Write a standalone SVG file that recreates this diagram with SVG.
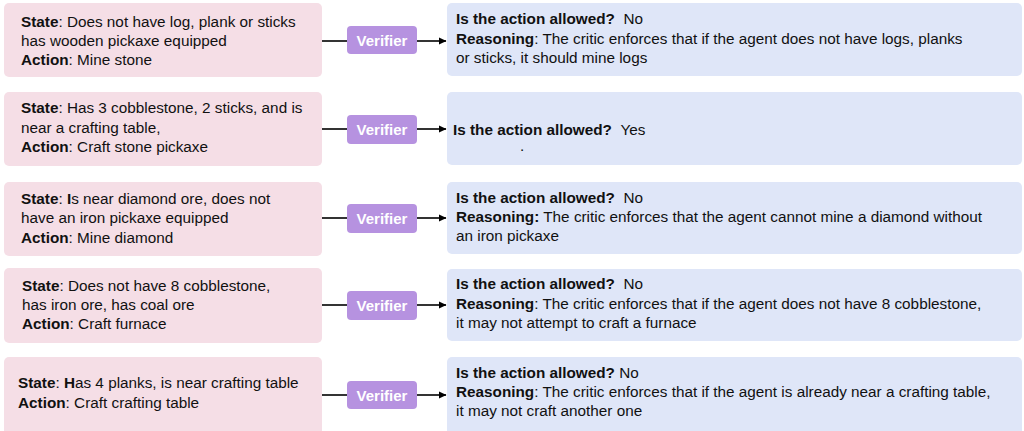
<svg xmlns="http://www.w3.org/2000/svg" width="1024" height="431" viewBox="0 0 1024 431">
<defs>
<style>
.state{fill:#f5dee6}
.out{fill:#dfe6f8}
.ver{fill:#b692e0}
.vt{font-family:"Liberation Sans",Arial,sans-serif;font-size:15px;font-weight:bold;fill:#ffffff;text-anchor:middle}
.t{font-family:"Liberation Sans",Arial,sans-serif;font-size:15.3px;fill:#111111}
.r{font-family:"Liberation Sans",Arial,sans-serif;font-size:15.3px;fill:#111111}
.b{font-weight:bold}
.edge{stroke:#000;stroke-width:1.6;fill:none}
</style>
<marker id="arr" markerWidth="8" markerHeight="8" refX="7" refY="4" orient="auto" markerUnits="userSpaceOnUse">
<path d="M0,0.5 L7.5,4 L0,7.5 z" fill="#000"/>
</marker>
</defs>
<rect width="1024" height="431" fill="#fff"/>

<g id="row1">
<g id="state1"><rect class="state" x="4" y="3" width="318" height="74" rx="5"/>
<text class="t" x="21" y="27"><tspan class="b">State</tspan>: Does not have log, plank or sticks</text>
<text class="t" x="21" y="46">has wooden pickaxe equipped</text>
<text class="t" x="21" y="65"><tspan class="b">Action</tspan>: Mine stone</text></g>
<g id="ver1"><rect class="ver" x="347" y="26" width="70" height="28" rx="4"/><text class="vt" x="382" y="45.5">Verifier</text></g>
<g id="out1"><rect class="out" x="447" y="3" width="575" height="73" rx="5"/>
<text class="r" x="456" y="24"><tspan class="b">Is the action allowed?</tspan><tspan dx="8.5">No</tspan></text>
<text class="r" x="456" y="44"><tspan class="b">Reasoning</tspan>: The critic enforces that if the agent does not have logs, planks</text>
<text class="r" x="456" y="63">or sticks, it should mine logs</text></g>
</g>

<g id="row2">
<g id="state2"><rect class="state" x="4" y="92" width="318" height="74" rx="5"/>
<text class="t" x="21" y="113"><tspan class="b">State</tspan>: Has 3 cobblestone, 2 sticks, and is</text>
<text class="t" x="21" y="133">near a crafting table,</text>
<text class="t" x="21" y="152"><tspan class="b">Action</tspan>: Craft stone pickaxe</text></g>
<g id="ver2"><rect class="ver" x="347" y="115" width="70" height="29" rx="4"/><text class="vt" x="382" y="134.5">Verifier</text></g>
<g id="out2"><rect class="out" x="447" y="92" width="575" height="73" rx="5"/>
<text class="r" x="453" y="135"><tspan class="b">Is the action allowed?</tspan><tspan dx="8.5">Yes</tspan></text>
<text class="r" x="520" y="151">.</text></g>
</g>

<g id="row3">
<g id="state3"><rect class="state" x="4" y="182" width="318" height="74" rx="5"/>
<text class="t" x="21" y="204"><tspan class="b">State</tspan>: <tspan class="b">I</tspan>s near diamond ore, does not</text>
<text class="t" x="21" y="223">have an iron pickaxe equipped</text>
<text class="t" x="21" y="243"><tspan class="b">Action</tspan>: Mine diamond</text></g>
<g id="ver3"><rect class="ver" x="347" y="204" width="70" height="29" rx="4"/><text class="vt" x="382" y="223.5">Verifier</text></g>
<g id="out3"><rect class="out" x="447" y="182" width="575" height="72" rx="5"/>
<text class="r" x="456" y="203"><tspan class="b">Is the action allowed?</tspan><tspan dx="8.5">No</tspan></text>
<text class="r" x="456" y="222"><tspan class="b">Reasoning:</tspan> The critic enforces that the agent cannot mine a diamond without</text>
<text class="r" x="456" y="241">an iron pickaxe</text></g>
</g>

<g id="row4">
<g id="state4"><rect class="state" x="4" y="268" width="318" height="75" rx="5"/>
<text class="t" x="22" y="291"><tspan class="b">State</tspan>: Does not have 8 cobblestone,</text>
<text class="t" x="22" y="310">has iron ore, has coal ore</text>
<text class="t" x="22" y="329"><tspan class="b">Action</tspan>: Craft furnace</text></g>
<g id="ver4"><rect class="ver" x="347" y="291" width="70" height="29" rx="4"/><text class="vt" x="382" y="310.5">Verifier</text></g>
<g id="out4"><rect class="out" x="447" y="269" width="575" height="72" rx="5"/>
<text class="r" x="456" y="289"><tspan class="b">Is the action allowed?</tspan><tspan dx="8.5">No</tspan></text>
<text class="r" x="456" y="309"><tspan class="b">Reasoning</tspan>: The critic enforces that if the agent does not have 8 cobblestone,</text>
<text class="r" x="456" y="328">it may not attempt to craft a furnace</text></g>
</g>

<g id="row5">
<g id="state5"><rect class="state" x="4" y="357" width="318" height="78" rx="5"/>
<text class="t" x="18" y="388"><tspan class="b">State</tspan>: <tspan class="b">H</tspan>as 4 planks, is near crafting table</text>
<text class="t" x="18" y="408"><tspan class="b">Action</tspan>: Craft crafting table</text></g>
<g id="ver5"><rect class="ver" x="347" y="381" width="70" height="28" rx="4"/><text class="vt" x="382" y="400.5">Verifier</text></g>
<g id="out5"><rect class="out" x="447" y="357" width="575" height="78" rx="5"/>
<text class="r" x="456" y="378"><tspan class="b">Is the action allowed?</tspan> No</text>
<text class="r" x="456" y="397"><tspan class="b">Reasoning</tspan>: The critic enforces that if the agent is already near a crafting table,</text>
<text class="r" x="456" y="416">it may not craft another one</text></g>
</g>

<g id="connectors">
<line class="edge" x1="322" y1="41" x2="347" y2="41"/>
<line class="edge" x1="417" y1="41" x2="446" y2="41" marker-end="url(#arr)"/>
<line class="edge" x1="322" y1="129" x2="347" y2="129"/>
<line class="edge" x1="417" y1="129" x2="446" y2="129" marker-end="url(#arr)"/>
<line class="edge" x1="322" y1="218" x2="347" y2="218"/>
<line class="edge" x1="417" y1="218" x2="446" y2="218" marker-end="url(#arr)"/>
<line class="edge" x1="322" y1="305" x2="347" y2="305"/>
<line class="edge" x1="417" y1="305" x2="446" y2="305" marker-end="url(#arr)"/>
<line class="edge" x1="322" y1="395" x2="347" y2="395"/>
<line class="edge" x1="417" y1="395" x2="446" y2="395" marker-end="url(#arr)"/>
</g>
</svg>
